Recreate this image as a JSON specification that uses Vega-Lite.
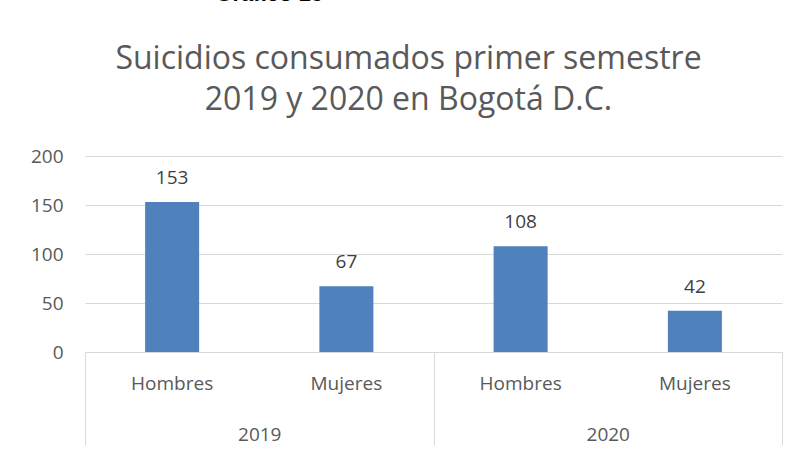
{
  "$schema": "https://vega.github.io/schema/vega-lite/v6.json",
  "padding": {"left": 30, "top": -17, "right": 0, "bottom": 0},
  "background": "white",
  "config": {"view": {"stroke": null}},
  "title": {
    "text": "Gráfico 13",
    "font": "Liberation Sans",
    "fontSize": 22,
    "fontWeight": "bold",
    "color": "black",
    "anchor": "start",
    "dx": 185,
    "offset": 37
  },
  "data": {
    "values": [
      {"year": "2019", "sex": "Hombres", "value": 153},
      {"year": "2019", "sex": "Mujeres", "value": 67},
      {"year": "2020", "sex": "Hombres", "value": 108},
      {"year": "2020", "sex": "Mujeres", "value": 42}
    ]
  },
  "vconcat": [
    {
      "width": 697,
      "height": 196,
      "title": {
        "text": ["Suicidios consumados primer semestre", "2019 y 2020 en Bogotá D.C."],
        "font": "Open Sans",
        "fontSize": 32,
        "fontWeight": "normal",
        "color": "#595959",
        "lineHeight": 41,
        "anchor": "middle",
        "frame": "group",
        "dx": -25,
        "offset": 30
      },
      "encoding": {
        "x": {
          "field": "year",
          "type": "nominal",
          "scale": {"paddingInner": 0, "paddingOuter": 0},
          "axis": {
            "title": null,
            "labelAngle": 0,
            "labelFont": "Open Sans",
            "labelFontSize": 19,
            "labelColor": "#595959",
            "domainColor": "#d9d9d9",
            "tickColor": "#d9d9d9",
            "tickBand": "extent",
            "tickSize": 93,
            "labelPadding": -20,
            "labelBaseline": "top"
          }
        },
        "xOffset": {
          "field": "sex",
          "type": "nominal",
          "scale": {"paddingInner": 0.69, "paddingOuter": 0.345}
        }
      },
      "layer": [
        {
          "mark": {"type": "bar", "color": "#4f81bd"},
          "encoding": {
            "y": {
              "field": "value",
              "type": "quantitative",
              "scale": {"domain": [0, 200]},
              "axis": {
                "title": null,
                "values": [0, 50, 100, 150, 200],
                "domain": false,
                "ticks": false,
                "gridColor": "#d9d9d9",
                "labelFont": "Open Sans",
                "labelFontSize": 19,
                "labelColor": "#595959",
                "labelPadding": 22
              }
            }
          }
        },
        {
          "mark": {"type": "text", "font": "Open Sans", "fontSize": 19, "color": "#404040", "baseline": "bottom", "dy": -14},
          "encoding": {
            "y": {"field": "value", "type": "quantitative"},
            "text": {"field": "value", "type": "quantitative"}
          }
        },
        {
          "mark": {"type": "text", "font": "Open Sans", "fontSize": 19, "color": "#595959", "baseline": "middle", "dy": 32},
          "encoding": {
            "y": {"datum": 0},
            "text": {"field": "sex"}
          }
        }
      ]
    }
  ]
}
